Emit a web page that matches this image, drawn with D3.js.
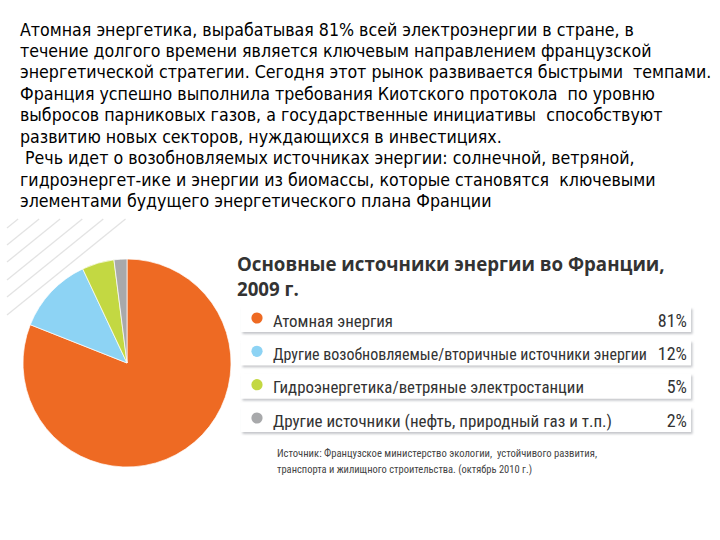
<!DOCTYPE html>
<html><head><meta charset="utf-8">
<script src="https://cdn.jsdelivr.net/npm/d3@7"></script>
<style>body{margin:0;background:#fff}svg{display:block}</style>
</head><body>
<svg id="c" width="720" height="540"></svg>
<script>
const introLines = [
  "Атомная энергетика, вырабатывая 81% всей электроэнергии в стране, в",
  "течение долгого времени является ключевым направлением французской",
  "энергетической стратегии. Сегодня этот рынок развивается быстрыми  темпами.",
  "Франция успешно выполнила требования Киотского протокола  по уровню",
  "выбросов парниковых газов, а государственные инициативы  способствуют",
  "развитию новых секторов, нуждающихся в инвестициях.",
  " Речь идет о возобновляемых источниках энергии: солнечной, ветряной,",
  "гидроэнергет-ике и энергии из биомассы, которые становятся  ключевыми",
  "элементами будущего энергетического плана Франции"
];
const titleLines = ["Основные источники энергии во Франции,", "2009 г."];
const categories = [
  "Атомная энергия",
  "Другие возобновляемые/вторичные источники энергии",
  "Гидроэнергетика/ветряные электростанции",
  "Другие источники (нефть, природный газ и т.п.)"
];
const values = [81, 12, 5, 2];
const colors = ["#ee6a23", "#8dd3f4", "#c3d842", "#a8a9ab"];
const sourceLines = [
  "Источник: Французское министерство экологии,  устойчивого развития,",
  "транспорта и жилищного строительства. (октябрь 2010 г.)"
];

const labelWidths = [120, 374, 311, 339];
const pctWidths = [27, 28, 17, 18];
const sourceWidths = [320, 255];

const svg = d3.select("#c");
const defs = svg.append("defs");
const f = defs.append("filter").attr("id","sh").attr("x","-5%").attr("y","-30%").attr("width","112%").attr("height","180%");
f.append("feDropShadow").attr("dx",1.5).attr("dy",2).attr("stdDeviation",1.3).attr("flood-color","#8a8f96").attr("flood-opacity",0.5);

// intro text
const it = svg.append("g").selectAll("text").data(introLines).join("text")
  .attr("x", 20).attr("y", (d,i) => 35.5 + i*21.45)
  .style("white-space","pre")
  .attr("font-family","'DejaVu Sans Condensed','DejaVu Sans',sans-serif")
  .attr("font-size", 17).attr("fill","#000").text(d => d);
const w3 = it.nodes()[2].getComputedTextLength();
it.attr("font-size", 17 * 692 / w3);

// decorative hatching
const hatch = svg.append("g").attr("stroke","#e3e3e3").attr("stroke-width",1.3);
[228,245,262,280,297,315].forEach(y0 => {
  const x1 = 7 + (y0 - 219) / 0.81;
  hatch.append("line").attr("x1",7).attr("y1",y0).attr("x2",x1).attr("y2",219);
});

// pie
const cx = 127, cy = 363, r = 104;
const pie = d3.pie().sort(null).value(d => d)(values);
const arc = d3.arc().innerRadius(0).outerRadius(r);
svg.append("g").attr("transform",`translate(${cx},${cy})`)
  .selectAll("path").data(pie).join("path")
  .attr("d", arc).attr("fill",(d,i)=>colors[i])
  .attr("stroke","#fff").attr("stroke-width",0.7);

// title
const tt = svg.append("g").selectAll("text").data(titleLines).join("text")
  .attr("x",237).attr("y",(d,i)=>271 + i*24.7)
  .attr("font-family","'Open Sans',sans-serif").attr("font-weight",700)
  .attr("font-size",18.5).attr("fill","#333").text(d=>d);
const tw = tt.nodes()[0].getComputedTextLength();
tt.attr("font-size", 18.5 * 428 / tw);

// legend rows
const y = d3.scalePoint().domain(categories).range([307, 407]);
const rows = svg.append("g").selectAll("g").data(categories).join("g")
  .attr("transform", d => `translate(0,${y(d)})`);
rows.append("rect").attr("x",241).attr("y",0).attr("width",450).attr("height",25)
  .attr("fill","#fff").attr("filter","url(#sh)");
rows.append("circle").attr("cx",257).attr("cy",11).attr("r",5.6).attr("fill",(d,i)=>colors[i]);
const condensed = "'Roboto Condensed','DejaVu Sans Condensed','Liberation Sans Narrow',sans-serif";
const labs = rows.append("text").attr("x",273).attr("y",19.5)
  .attr("font-family",condensed).attr("font-size",18).attr("fill","#333")
  .text(d=>d);
// size each label so its natural width matches the reference
labs.each(function(d,i){
  const w = this.getComputedTextLength();
  d3.select(this).attr("font-size", Math.min(18.5, 18 * labelWidths[i] / w))
    .attr("textLength", labelWidths[i]).attr("lengthAdjust","spacingAndGlyphs");
});
rows.append("text").attr("x",687).attr("y",19.5).attr("text-anchor","end")
  .attr("font-family",condensed).attr("font-size",18).attr("fill","#333")
  .text((d,i)=>values[i]+"%");

// source
const st = svg.append("g").selectAll("text").data(sourceLines).join("text")
  .attr("x",277).attr("y",(d,i)=>457 + i*15.5)
  .style("white-space","pre")
  .attr("font-family",condensed).attr("font-size",13).attr("fill","#444")
  .text(d=>d);
st.each(function(d,i){
  const w = this.getComputedTextLength();
  d3.select(this).attr("font-size", Math.min(13.5, 13 * sourceWidths[i] / w))
    .attr("textLength", sourceWidths[i]).attr("lengthAdjust","spacingAndGlyphs");
});
</script>
</body></html>
